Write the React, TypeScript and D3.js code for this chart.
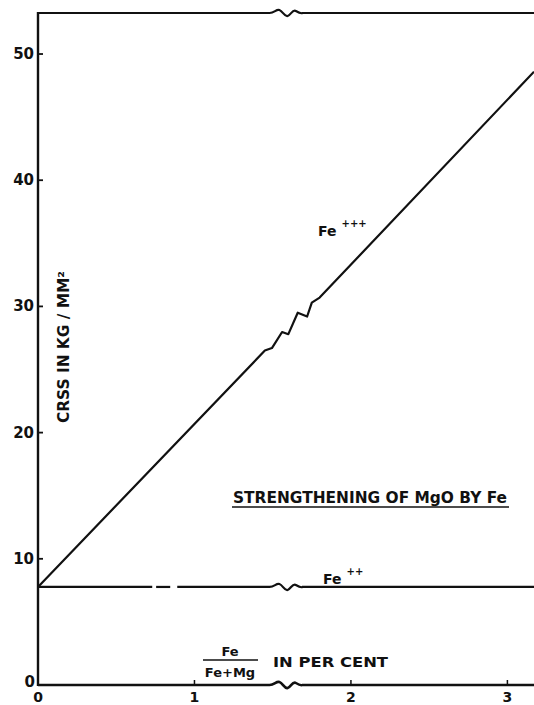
import { useEffect, useRef } from "react";
import * as d3 from "d3";

const WIDTH = 534;
const HEIGHT = 705;

const X_TICKS = [0, 1, 2, 3];
const Y_TICKS = [0, 10, 20, 30, 40, 50];

// Fe+++ curve (x in per cent, y in kg/mm²)
const FE3_X = [0, 1.45, 1.495, 1.56, 1.6, 1.66, 1.72, 1.75, 1.8, 3.17];
const FE3_Y = [7.77, 26.5, 26.7, 27.97, 27.8, 29.5, 29.2, 30.3, 30.7, 48.6];

// Fe++ is flat, drawn with a couple of gaps in the original
const FE2_VALUE = 7.77;
const FE2_SEGMENTS: [number, number][] = [
  [0, 0.73],
  [0.755, 0.845],
  [0.89, 3.17],
];

const BREAK_X: [number, number] = [1.48, 1.69];

export default function App() {
  const ref = useRef<SVGSVGElement | null>(null);

  useEffect(() => {
    document.body.style.margin = "0";
    if (!ref.current) return;
    const svg = d3.select(ref.current);
    svg.selectAll("*").remove();

    const x = d3.scaleLinear().domain([0, 3.17]).range([38, 534]);
    const y = d3.scaleLinear().domain([0, 53.25]).range([685, 13]);
    const ink = "#111";
    const font = "'DejaVu Sans', sans-serif";

    // a flat line with the little "~" break mark the draughtsman put in
    const brokenLine = (x0: number, x1: number, py: number) => {
      const a = x(BREAK_X[0]);
      const b = x(BREAK_X[1]);
      const w = b - a;
      const p = d3.path();
      p.moveTo(x(x0), py);
      p.lineTo(a, py);
      p.bezierCurveTo(a + w * 0.15, py, a + w * 0.2, py - 4, a + w * 0.3, py - 3);
      p.bezierCurveTo(a + w * 0.4, py - 2, a + w * 0.45, py + 4, a + w * 0.55, py + 3);
      p.bezierCurveTo(a + w * 0.65, py + 2, a + w * 0.7, py - 4, a + w * 0.8, py - 2);
      p.bezierCurveTo(a + w * 0.9, py, a + w * 0.95, py + 1, b, py);
      p.lineTo(x(x1), py);
      return p.toString();
    };

    // frame
    svg
      .append("path")
      .attr("d", brokenLine(0, 3.17, y(0)))
      .attr("fill", "none")
      .attr("stroke", ink)
      .attr("stroke-width", 2.6);
    svg
      .append("path")
      .attr("d", brokenLine(0, 3.17, y(53.25)))
      .attr("fill", "none")
      .attr("stroke", ink)
      .attr("stroke-width", 2.2);
    svg
      .append("line")
      .attr("x1", x(0))
      .attr("x2", x(0))
      .attr("y1", y(53.25) - 1)
      .attr("y2", y(0) + 1)
      .attr("stroke", ink)
      .attr("stroke-width", 2.4);

    // ticks
    svg
      .append("g")
      .selectAll("line")
      .data(Y_TICKS.filter((d) => d > 0))
      .enter()
      .append("line")
      .attr("x1", x(0))
      .attr("x2", x(0) + 5)
      .attr("y1", (d) => y(d))
      .attr("y2", (d) => y(d))
      .attr("stroke", ink)
      .attr("stroke-width", 1.8);
    svg
      .append("g")
      .selectAll("line")
      .data(X_TICKS.filter((d) => d > 0))
      .enter()
      .append("line")
      .attr("x1", (d) => x(d))
      .attr("x2", (d) => x(d))
      .attr("y1", y(0))
      .attr("y2", y(0) - 5)
      .attr("stroke", ink)
      .attr("stroke-width", 1.5);

    svg
      .append("g")
      .selectAll("text")
      .data(Y_TICKS)
      .enter()
      .append("text")
      .text((d) => String(d))
      .attr("x", (d) => (d === 0 ? 35 : 34))
      .attr("y", (d) => (d === 0 ? y(d) + 2 : y(d) + 5))
      .attr("text-anchor", "end")
      .attr("font-family", font)
      .attr("font-weight", "bold")
      .attr("font-size", 15)
      .attr("fill", ink);
    svg
      .append("g")
      .selectAll("text")
      .data(X_TICKS)
      .enter()
      .append("text")
      .text((d) => String(d))
      .attr("x", (d) => x(d))
      .attr("y", 702)
      .attr("text-anchor", "middle")
      .attr("font-family", font)
      .attr("font-weight", "bold")
      .attr("font-size", 14)
      .attr("fill", ink);

    // Fe+++ line
    const fe3 = FE3_X.map((v, i) => [v, FE3_Y[i]] as [number, number]);
    svg
      .append("path")
      .datum(fe3)
      .attr(
        "d",
        d3
          .line<[number, number]>()
          .x((d) => x(d[0]))
          .y((d) => y(d[1]))
      )
      .attr("fill", "none")
      .attr("stroke", ink)
      .attr("stroke-width", 2.2)
      .attr("stroke-linejoin", "round");

    // Fe++ line
    svg
      .append("g")
      .selectAll("path")
      .data(FE2_SEGMENTS)
      .enter()
      .append("path")
      .attr("d", (s) =>
        s[0] < BREAK_X[0] && s[1] > BREAK_X[1]
          ? brokenLine(s[0], s[1], y(FE2_VALUE))
          : `M${x(s[0])},${y(FE2_VALUE)}H${x(s[1])}`
      )
      .attr("fill", "none")
      .attr("stroke", ink)
      .attr("stroke-width", 2.2);

    const label = (tx: number, ty: number, main: string, sup: string) => {
      const t = svg
        .append("text")
        .attr("x", tx)
        .attr("y", ty)
        .attr("font-family", font)
        .attr("font-weight", "bold")
        .attr("font-size", 14)
        .attr("fill", ink);
      t.append("tspan").text(main);
      t.append("tspan")
        .text(sup)
        .attr("dx", 5)
        .attr("dy", -9)
        .attr("font-size", 10);
    };
    label(318, 236, "Fe", "+++");
    label(323, 584, "Fe", "++");

    // title, underlined
    svg
      .append("text")
      .text("STRENGTHENING OF MgO BY Fe")
      .attr("x", 233)
      .attr("y", 503)
      .attr("textLength", 274)
      .attr("lengthAdjust", "spacingAndGlyphs")
      .attr("font-family", font)
      .attr("font-weight", "bold")
      .attr("font-size", 15)
      .attr("fill", ink);
    svg
      .append("line")
      .attr("x1", 232)
      .attr("x2", 509)
      .attr("y1", 507)
      .attr("y2", 507)
      .attr("stroke", ink)
      .attr("stroke-width", 1.6);

    // y axis title
    svg
      .append("text")
      .attr("transform", "translate(69,347) rotate(-90)")
      .attr("text-anchor", "middle")
      .attr("textLength", 152)
      .attr("lengthAdjust", "spacingAndGlyphs")
      .attr("font-family", font)
      .attr("font-weight", "bold")
      .attr("font-size", 15)
      .attr("fill", ink)
      .text("CRSS  IN  KG / MM²");

    // x axis title: Fe / (Fe+Mg) IN PER CENT
    const fx = 230;
    svg
      .append("text")
      .text("Fe")
      .attr("x", fx)
      .attr("y", 656)
      .attr("text-anchor", "middle")
      .attr("font-family", font)
      .attr("font-weight", "bold")
      .attr("font-size", 13)
      .attr("fill", ink);
    svg
      .append("line")
      .attr("x1", 203)
      .attr("x2", 258)
      .attr("y1", 660)
      .attr("y2", 660)
      .attr("stroke", ink)
      .attr("stroke-width", 1.6);
    svg
      .append("text")
      .text("Fe+Mg")
      .attr("x", fx)
      .attr("y", 677)
      .attr("text-anchor", "middle")
      .attr("font-family", font)
      .attr("font-weight", "bold")
      .attr("font-size", 13)
      .attr("fill", ink);
    svg
      .append("text")
      .text("IN  PER CENT")
      .attr("x", 273)
      .attr("y", 667)
      .attr("textLength", 115)
      .attr("lengthAdjust", "spacingAndGlyphs")
      .attr("font-family", font)
      .attr("font-weight", "bold")
      .attr("font-size", 14)
      .attr("fill", ink);
  }, []);

  return (
    <svg
      ref={ref}
      width={WIDTH}
      height={HEIGHT}
      style={{ display: "block", background: "#fff" }}
    />
  );
}
